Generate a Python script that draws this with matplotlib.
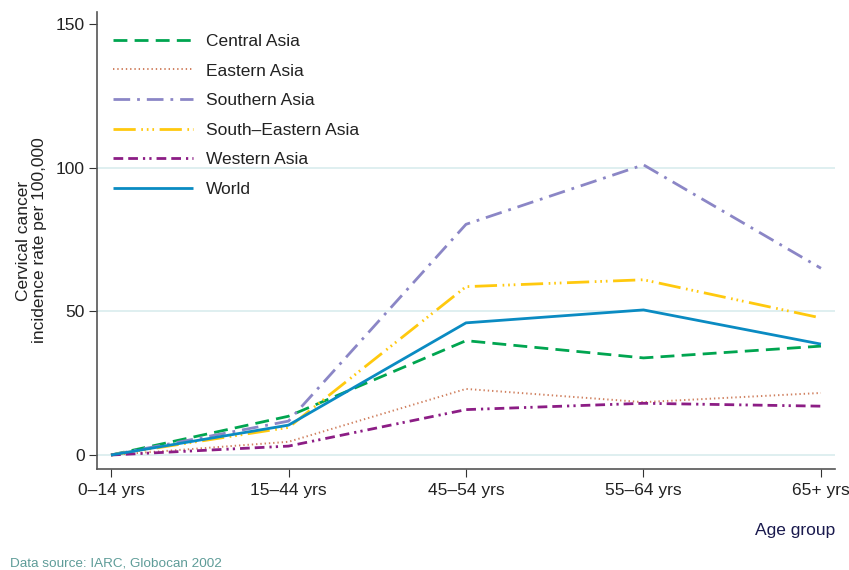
import matplotlib.pyplot as plt

plt.rcParams['font.family'] = ['Liberation Sans', 'DejaVu Sans']

# Cervical cancer incidence per 100,000 by age group
age_groups = ["0\u201314 yrs", "15\u201344 yrs", "45\u201354 yrs", "55\u201364 yrs", "65+ yrs"]
central_asia = [0, 13.5, 39.8, 33.8, 37.9]
eastern_asia = [0, 4.6, 23.0, 18.4, 21.6]
southern_asia = [0, 11.8, 80.3, 101.0, 65.0]
south_eastern_asia = [0, 9.6, 58.6, 61.0, 47.7]
western_asia = [0, 3.1, 15.8, 18.0, 17.0]
world = [0, 10.4, 46.0, 50.5, 38.6]

series = [
    ("Central Asia", central_asia, "#00a550", (0, (5, 2.6)), 2.0),
    ("Eastern Asia", eastern_asia, "#d0805f", (0, (0.7, 1.5)), 1.4),
    ("Southern Asia", southern_asia, "#8b86c6", (0, (6, 2.5, 1, 2.5)), 2.0),
    ("South\u2013Eastern Asia", south_eastern_asia, "#ffc90e", (0, (8, 2, 0.6, 1.4, 0.6, 1.4, 0.6, 2)), 2.0),
    ("Western Asia", western_asia, "#8c1d85", (0, (3.5, 1.8, 3.5, 1.8, 0.8, 1.5, 0.8, 1.8)), 2.0),
    ("World", world, "#0a8bc2", "-", 2.0),
]

fs = 12.5
fig = plt.figure(figsize=(8.49, 5.70), dpi=100)
ax = fig.add_axes([97 / 849, 1 - 469 / 570, (835 - 97) / 849, (469 - 12) / 570])

x = list(range(len(age_groups)))
for gy in [0, 50, 100]:
    ax.axhline(gy, color="#d9ecee", lw=1.2, zorder=0)

for name, vals, col, ls, lw in series:
    ax.plot(x, vals, color=col, linestyle=ls, lw=lw, label=name,
            solid_capstyle="butt", dash_capstyle="butt")

ax.set_xlim(-0.079, 4.079)
ax.set_ylim(-4.87, 154.2)
ax.set_yticks([0, 50, 100, 150])
ax.set_xticks(x)
ax.set_xticklabels(age_groups)
ax.tick_params(axis="both", direction="out", length=6, width=0.8,
               colors="#333333", labelsize=fs, labelcolor="#222222", pad=4)
ax.tick_params(axis="y", pad=3)

for s in ["top", "right"]:
    ax.spines[s].set_visible(False)
for s in ["left", "bottom"]:
    ax.spines[s].set_color("#555555")
    ax.spines[s].set_linewidth(1.2)

ax.set_ylabel("Cervical cancer\nincidence rate per 100,000", fontsize=fs,
              color="#222222", labelpad=6, linespacing=1.05)

leg = ax.legend(loc="upper left", bbox_to_anchor=(0.0122, 0.9675), frameon=False,
                fontsize=fs, handlelength=4.6, handletextpad=0.75,
                labelspacing=0.83, borderaxespad=0.0, borderpad=0.4)
for t in leg.get_texts():
    t.set_color("#222222")

fig.text(835 / 849, 1 - 530 / 570, "Age group", ha="right", va="center",
         fontsize=fs, color="#1a1a4e")
fig.text(10 / 849, 1 - 563 / 570, "Data source: IARC, Globocan 2002", ha="left",
         va="center", fontsize=9.7, color="#5e9c98")

fig.savefig("out.png", dpi=100)
